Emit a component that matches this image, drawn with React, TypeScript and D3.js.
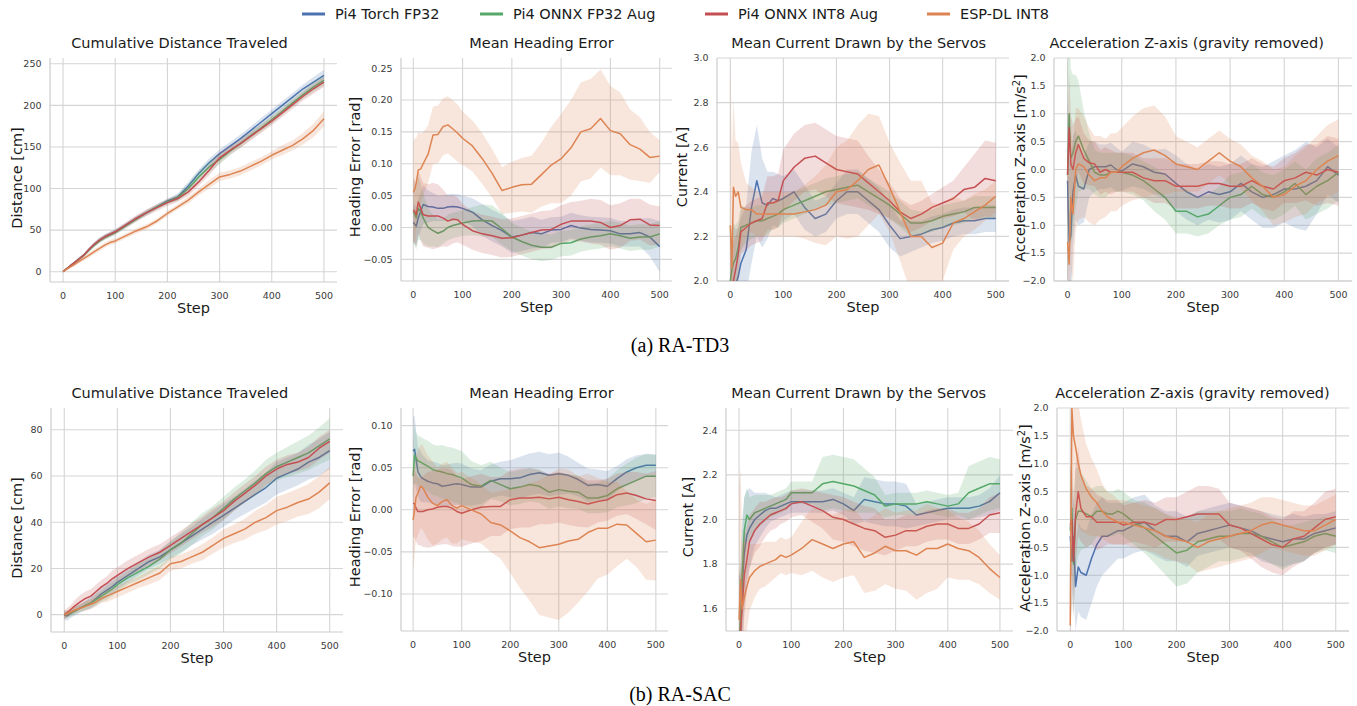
import React from 'react';
import * as d3 from 'd3';

// step grid shared by every series (denser at the start where the curves jump)
const STEPS = [0, 3, 6, 10, 15, 20, 30, 40, 50, 60, 70, 80, 90, 100, 120, 140, 160, 180, 200, 220, 240, 260, 280, 300, 320, 340, 360, 380, 400, 420, 440, 460, 480, 500];
const X_TICKS = [0, 100, 200, 300, 400, 500];
const SERIES = ['Pi4 Torch FP32', 'Pi4 ONNX FP32 Aug', 'Pi4 ONNX INT8 Aug', 'ESP-DL INT8'];
const COLORS = ['#4c72b0', '#55a868', '#c44e52', '#dd8452'];

// ---- (a) RA-TD3 ----
const distTd3Torch = [0, 1.5, 3, 5, 7.5, 10, 15, 20, 27, 33, 38, 42, 45, 48, 56, 64, 71, 78, 85, 90, 103, 118, 131, 142, 151, 160, 170, 180, 190, 200, 210, 220, 228, 236];
const distTd3TorchSd = [0, 0.5, 1, 1, 1.5, 1.5, 2, 2, 2.5, 2.5, 3, 3, 3, 3, 3, 3, 3, 3, 3, 4, 5, 5, 5, 5, 5, 5, 5, 5, 5, 5, 5, 5, 6, 7];
const distTd3Fp32 = [0, 1.5, 3, 5, 7.5, 10, 15, 20, 26, 32, 37, 41, 44, 47, 55, 63, 71, 78, 84, 89, 100, 114, 126, 135, 145, 154, 164, 173, 183, 193, 203, 213, 222, 230];
const distTd3Fp32Sd = [0, 0.5, 1, 1, 1.5, 1.5, 2, 2, 2.5, 2.5, 3, 3, 3, 3, 3, 3, 3, 3, 3, 4, 6, 7, 7, 6, 5, 5, 5, 5, 5, 5, 5, 5, 6, 6];
const distTd3Int8 = [0, 1.5, 3, 5, 7.5, 10, 15, 20, 27, 33, 38, 42, 45, 48, 56, 64, 71, 77, 83, 88, 96, 108, 122, 137, 146, 154, 163, 172, 181, 191, 201, 211, 220, 228];
const distTd3Int8Sd = [0, 0.5, 1, 1, 1.5, 1.5, 2, 2, 2.5, 3, 3, 3, 3, 3, 3.5, 4, 4, 4, 4, 4, 5, 5, 6, 6, 5, 5, 5, 5, 5, 5, 5, 5, 6, 6];
const distTd3Esp = [0, 1.2, 2.5, 4, 6, 8, 12, 16, 20, 24, 28, 32, 35, 37, 43, 49, 54, 61, 70, 78, 86, 96, 105, 114, 117, 121, 127, 133, 140, 146, 152, 160, 170, 184];
const distTd3EspSd = [0, 0.5, 1, 1, 1.5, 2, 2, 2.5, 3, 3, 3, 3, 3, 3, 3, 3, 3, 3, 3, 3, 4, 4, 5, 5, 5, 5, 5, 5, 5, 6, 6, 7, 8, 9];

const headTd3Torch = [0.008, 0.005, 0.002, 0.015, 0.025, 0.036, 0.033, 0.032, 0.03, 0.03, 0.032, 0.033, 0.032, 0.03, 0.024, 0.012, 0.003, -0.005, -0.015, -0.012, -0.008, -0.01, -0.004, -0.003, 0.003, -0.001, -0.003, -0.004, -0.005, -0.01, -0.01, -0.008, -0.015, -0.03];
const headTd3TorchSd = [0.03, 0.03, 0.03, 0.03, 0.03, 0.03, 0.025, 0.022, 0.02, 0.02, 0.02, 0.02, 0.02, 0.02, 0.022, 0.025, 0.025, 0.025, 0.025, 0.025, 0.025, 0.022, 0.02, 0.02, 0.02, 0.02, 0.02, 0.02, 0.02, 0.02, 0.02, 0.022, 0.03, 0.04];
const headTd3Fp32 = [0.025, 0.02, 0.015, 0.03, 0.025, 0.015, 0, -0.005, -0.009, -0.006, 0, 0.003, 0.005, 0.007, 0.01, 0.011, 0.01, -0.002, -0.015, -0.022, -0.028, -0.031, -0.031, -0.025, -0.024, -0.018, -0.015, -0.013, -0.01, -0.013, -0.017, -0.015, -0.015, -0.01];
const headTd3Fp32Sd = [0.05, 0.05, 0.05, 0.05, 0.045, 0.04, 0.03, 0.025, 0.022, 0.02, 0.02, 0.02, 0.02, 0.02, 0.022, 0.025, 0.025, 0.025, 0.022, 0.022, 0.022, 0.022, 0.02, 0.02, 0.02, 0.02, 0.02, 0.02, 0.02, 0.02, 0.02, 0.02, 0.02, 0.02];
const headTd3Int8 = [0.028, 0.025, 0.02, 0.04, 0.03, 0.02, 0.018, 0.018, 0.018, 0.015, 0.01, 0.013, 0.012, 0.005, -0.005, -0.01, -0.013, -0.017, -0.016, -0.012, -0.008, -0.004, -0.003, 0.005, 0.01, 0.01, 0.01, 0.008, 0, 0.003, 0.012, 0.013, 0.004, 0.003];
const headTd3Int8Sd = [0.05, 0.05, 0.05, 0.05, 0.05, 0.05, 0.05, 0.052, 0.05, 0.045, 0.04, 0.038, 0.035, 0.032, 0.03, 0.03, 0.03, 0.03, 0.03, 0.03, 0.03, 0.03, 0.03, 0.03, 0.03, 0.032, 0.035, 0.035, 0.035, 0.035, 0.033, 0.032, 0.032, 0.03];
const headTd3Esp = [0.055, 0.06, 0.07, 0.09, 0.092, 0.1, 0.115, 0.145, 0.146, 0.158, 0.161, 0.155, 0.148, 0.14, 0.128, 0.108, 0.085, 0.058, 0.063, 0.067, 0.068, 0.083, 0.098, 0.108, 0.125, 0.15, 0.155, 0.171, 0.152, 0.147, 0.13, 0.123, 0.11, 0.112];
const headTd3EspSd = [0.08, 0.08, 0.07, 0.06, 0.055, 0.05, 0.045, 0.045, 0.045, 0.045, 0.045, 0.045, 0.045, 0.042, 0.04, 0.04, 0.038, 0.037, 0.04, 0.042, 0.045, 0.05, 0.06, 0.07, 0.075, 0.078, 0.078, 0.077, 0.07, 0.065, 0.055, 0.05, 0.04, 0.025];

const currTd3Torch = [1.9, 1.9, 1.95, 1.98, 2.02, 2.08, 2.14, 2.33, 2.45, 2.35, 2.34, 2.37, 2.36, 2.37, 2.4, 2.33, 2.28, 2.3, 2.36, 2.4, 2.4, 2.36, 2.32, 2.25, 2.19, 2.2, 2.21, 2.23, 2.24, 2.26, 2.27, 2.27, 2.28, 2.28];
const currTd3TorchSd = [0.3, 0.3, 0.3, 0.25, 0.22, 0.2, 0.2, 0.25, 0.25, 0.2, 0.15, 0.12, 0.12, 0.1, 0.1, 0.1, 0.08, 0.08, 0.08, 0.1, 0.1, 0.1, 0.1, 0.1, 0.08, 0.07, 0.06, 0.06, 0.06, 0.06, 0.06, 0.06, 0.06, 0.06];
const currTd3Fp32 = [2.0, 2.05, 2.08, 2.1, 2.15, 2.24, 2.25, 2.26, 2.27, 2.27, 2.28, 2.29, 2.3, 2.32, 2.34, 2.36, 2.38, 2.4, 2.41, 2.42, 2.43, 2.4, 2.37, 2.34, 2.3, 2.26, 2.26, 2.27, 2.29, 2.3, 2.31, 2.33, 2.33, 2.33];
const currTd3Fp32Sd = [0.2, 0.2, 0.18, 0.15, 0.12, 0.1, 0.08, 0.07, 0.07, 0.07, 0.07, 0.06, 0.06, 0.06, 0.06, 0.06, 0.06, 0.06, 0.06, 0.06, 0.06, 0.06, 0.06, 0.06, 0.06, 0.06, 0.05, 0.05, 0.05, 0.05, 0.05, 0.05, 0.05, 0.05];
const currTd3Int8 = [1.9, 1.95, 2.0, 2.05, 2.12, 2.22, 2.24, 2.26, 2.27, 2.28, 2.35, 2.35, 2.36, 2.45, 2.51, 2.55, 2.56, 2.53, 2.5, 2.49, 2.48, 2.44, 2.4, 2.36, 2.31, 2.28, 2.3, 2.33, 2.35, 2.37, 2.41, 2.42, 2.46, 2.45];
const currTd3Int8Sd = [0.2, 0.2, 0.18, 0.15, 0.12, 0.1, 0.1, 0.1, 0.1, 0.1, 0.12, 0.12, 0.12, 0.14, 0.15, 0.15, 0.15, 0.15, 0.15, 0.15, 0.15, 0.12, 0.1, 0.08, 0.06, 0.06, 0.06, 0.06, 0.07, 0.08, 0.1, 0.15, 0.17, 0.17];
const currTd3Esp = [2.25, 2.06, 2.42, 2.38, 2.4, 2.33, 2.32, 2.32, 2.3, 2.3, 2.3, 2.3, 2.3, 2.3, 2.3, 2.31, 2.32, 2.34, 2.4, 2.41, 2.45, 2.5, 2.52, 2.42, 2.31, 2.2, 2.2, 2.15, 2.17, 2.26, 2.28, 2.31, 2.34, 2.38];
const currTd3EspSd = [0.8, 0.5, 0.4, 0.25, 0.22, 0.2, 0.12, 0.1, 0.1, 0.1, 0.1, 0.1, 0.1, 0.1, 0.1, 0.12, 0.15, 0.18, 0.2, 0.22, 0.25, 0.25, 0.22, 0.2, 0.22, 0.25, 0.25, 0.2, 0.17, 0.12, 0.08, 0.08, 0.07, 0.07];

const accTd3Torch = [-0.2, -1.3, -1.2, -0.4, -0.1, -0.3, -0.35, 0, 0.05, 0.05, 0.05, 0.08, 0, -0.03, 0.1, 0.05, -0.05, -0.08, -0.25, -0.4, -0.5, -0.4, -0.45, -0.4, -0.25, -0.4, -0.5, -0.45, -0.35, -0.35, -0.3, -0.2, 0.05, -0.1];
const accTd3TorchSd = [1.5, 1.5, 1.3, 1.0, 0.8, 0.7, 0.6, 0.5, 0.45, 0.4, 0.4, 0.4, 0.4, 0.35, 0.4, 0.4, 0.4, 0.45, 0.5, 0.5, 0.5, 0.5, 0.5, 0.5, 0.5, 0.5, 0.55, 0.6, 0.6, 0.7, 0.8, 0.6, 0.5, 0.5];
const accTd3Fp32 = [-0.1, 1.0, 0.2, 0.3, 0.5, 0.6, 0.35, 0.15, -0.05, -0.1, -0.1, -0.05, -0.05, -0.05, -0.1, -0.2, -0.35, -0.5, -0.75, -0.75, -0.85, -0.8, -0.65, -0.5, -0.45, -0.3, -0.45, -0.5, -0.4, -0.25, -0.45, -0.3, -0.2, -0.05];
const accTd3Fp32Sd = [1.8, 1.8, 1.6, 1.4, 1.2, 1.0, 0.7, 0.5, 0.4, 0.4, 0.4, 0.35, 0.35, 0.35, 0.35, 0.35, 0.4, 0.4, 0.4, 0.4, 0.35, 0.35, 0.35, 0.4, 0.4, 0.4, 0.4, 0.4, 0.4, 0.4, 0.45, 0.5, 0.5, 0.5];
const accTd3Int8 = [-0.1, 0.75, 0.1, 0, 0.3, 0.45, 0.2, 0.12, 0.1, -0.05, 0, -0.05, -0.05, -0.05, -0.05, -0.15, -0.2, -0.2, -0.3, -0.3, -0.3, -0.25, -0.25, -0.3, -0.3, -0.2, -0.3, -0.35, -0.2, -0.15, -0.05, -0.1, 0, -0.05];
const accTd3Int8Sd = [1.0, 1.0, 0.9, 0.8, 0.6, 0.5, 0.45, 0.4, 0.4, 0.4, 0.4, 0.4, 0.35, 0.35, 0.35, 0.35, 0.4, 0.4, 0.4, 0.4, 0.4, 0.4, 0.4, 0.4, 0.4, 0.4, 0.4, 0.4, 0.4, 0.45, 0.5, 0.55, 0.6, 0.6];
const accTd3Esp = [-1.3, -1.7, -0.5, -0.8, 0, 0.1, 0.05, -0.1, -0.2, -0.15, -0.15, -0.05, -0.05, 0.05, 0.2, 0.3, 0.35, 0.25, 0.1, 0.05, 0, 0.15, 0.3, 0.15, 0.05, -0.15, -0.3, -0.5, -0.45, -0.3, -0.2, 0, 0.15, 0.25];
const accTd3EspSd = [1.5, 1.5, 1.3, 1.2, 1.1, 1.0, 0.9, 0.85, 0.8, 0.75, 0.7, 0.7, 0.7, 0.7, 0.75, 0.8, 0.8, 0.7, 0.5, 0.45, 0.4, 0.4, 0.4, 0.4, 0.4, 0.4, 0.45, 0.5, 0.5, 0.55, 0.6, 0.6, 0.65, 0.65];

// ---- (b) RA-SAC ----
const distSacTorch = [0, -0.5, -0.5, 0.2, 1, 1.6, 2.8, 4, 5, 7, 9, 10.5, 12, 14, 17, 20, 23, 25, 28, 31, 34, 37, 40, 43, 46, 49, 52, 55, 59, 61, 63, 66, 68, 71];
const distSacTorchSd = [2, 2, 2, 2, 2, 2, 2, 2, 2.5, 2.5, 3, 3, 3, 3, 3, 3, 3, 3, 3.5, 4, 4, 4.5, 5, 5, 5, 5.5, 6, 6.5, 7, 7, 7, 7.5, 8, 8];
const distSacFp32 = [0, 0, 0.2, 0.5, 1, 1.6, 2.8, 4, 5, 6.5, 8, 9.5, 11, 13, 16, 18.5, 21, 24, 28, 31, 35, 39, 42, 46, 50, 53.5, 57, 61, 64, 66, 68, 70, 73, 76];
const distSacFp32Sd = [1.5, 1.5, 1.5, 1.5, 1.5, 1.5, 1.5, 2, 2, 2.5, 2.5, 3, 3, 3, 3, 3.5, 3.5, 4, 4, 4.5, 5, 5, 5, 5, 5, 5, 5.5, 6, 6, 6.5, 7, 7.5, 8, 9];
const distSacInt8 = [0, 0.5, 1, 1.8, 2.8, 3.8, 5.5, 7, 8, 10, 12, 13.5, 15.5, 17, 20, 22.5, 25, 27, 30, 33, 36, 39, 42, 45, 49, 52.5, 56, 60, 63, 65, 66, 68, 72, 75];
const distSacInt8Sd = [2, 2, 2, 2, 2, 2.5, 3, 3, 3, 3, 3, 3, 3.5, 3.5, 3.5, 3.5, 3.5, 3.5, 3.5, 3.5, 3.5, 3.5, 4, 4, 4, 4, 4, 4, 4, 4, 4, 4.5, 5, 5];
const distSacEsp = [0, 0.2, 0.5, 1, 1.5, 2, 2.8, 3.6, 4.5, 5.5, 7, 8, 9, 10, 12, 14, 16, 18, 22, 23, 25, 27, 30, 33, 35, 37, 40, 42, 45, 46.5, 48.5, 50, 53, 57];
const distSacEspSd = [1.5, 1.5, 1.5, 1.5, 1.5, 1.5, 1.5, 2, 2, 2, 2, 2.5, 2.5, 2.5, 2.5, 2.5, 3, 3, 3, 3, 3, 3.5, 3.5, 4, 4, 4.5, 5, 5.5, 6, 6, 6, 6.5, 7, 7];

const headSacTorch = [0.07, 0.072, 0.06, 0.045, 0.04, 0.037, 0.034, 0.032, 0.031, 0.028, 0.029, 0.03, 0.031, 0.03, 0.027, 0.027, 0.034, 0.037, 0.037, 0.038, 0.042, 0.044, 0.041, 0.043, 0.041, 0.036, 0.029, 0.03, 0.028, 0.037, 0.045, 0.05, 0.053, 0.053];
const headSacTorchSd = [0.04, 0.04, 0.035, 0.03, 0.03, 0.028, 0.025, 0.025, 0.025, 0.025, 0.025, 0.025, 0.025, 0.025, 0.022, 0.02, 0.02, 0.02, 0.022, 0.025, 0.025, 0.025, 0.025, 0.025, 0.022, 0.02, 0.02, 0.018, 0.018, 0.015, 0.015, 0.015, 0.013, 0.013];
const headSacFp32 = [0.04, 0.065, 0.062, 0.058, 0.057, 0.055, 0.052, 0.048, 0.046, 0.045, 0.043, 0.042, 0.04, 0.038, 0.03, 0.028, 0.035, 0.03, 0.025, 0.027, 0.03, 0.028, 0.021, 0.024, 0.022, 0.021, 0.014, 0.014, 0.017, 0.025, 0.03, 0.035, 0.04, 0.04];
const headSacFp32Sd = [0.035, 0.035, 0.03, 0.03, 0.03, 0.03, 0.03, 0.03, 0.03, 0.032, 0.032, 0.032, 0.032, 0.032, 0.028, 0.025, 0.022, 0.02, 0.02, 0.02, 0.02, 0.02, 0.02, 0.02, 0.02, 0.02, 0.018, 0.018, 0.02, 0.022, 0.025, 0.027, 0.027, 0.025];
const headSacInt8 = [0.008, 0.007, 0.002, -0.002, -0.002, -0.002, 0, 0.001, 0.003, 0.004, 0.004, 0.002, -0.002, -0.004, 0, 0.003, 0.004, 0.004, 0.012, 0.014, 0.014, 0.015, 0.013, 0.015, 0.012, 0.01, 0.007, 0.01, 0.012, 0.018, 0.02, 0.017, 0.013, 0.011];
const headSacInt8Sd = [0.04, 0.04, 0.04, 0.04, 0.04, 0.042, 0.045, 0.045, 0.045, 0.045, 0.045, 0.045, 0.042, 0.04, 0.04, 0.04, 0.035, 0.035, 0.035, 0.035, 0.035, 0.032, 0.03, 0.03, 0.03, 0.03, 0.028, 0.025, 0.025, 0.025, 0.025, 0.028, 0.03, 0.035];
const headSacEsp = [-0.012, 0, 0.015, 0.02, 0.028, 0.026, 0.015, 0.008, 0.005, 0.01, 0.012, 0.005, 0.002, 0.005, 0, -0.005, -0.015, -0.018, -0.025, -0.033, -0.038, -0.045, -0.043, -0.041, -0.037, -0.035, -0.027, -0.022, -0.022, -0.017, -0.018, -0.028, -0.038, -0.036];
const headSacEspSd = [0.06, 0.055, 0.05, 0.05, 0.05, 0.05, 0.05, 0.05, 0.045, 0.045, 0.045, 0.045, 0.042, 0.04, 0.038, 0.035, 0.035, 0.04, 0.05, 0.06, 0.07, 0.08, 0.085, 0.09, 0.085, 0.075, 0.07, 0.06, 0.055, 0.05, 0.04, 0.04, 0.045, 0.048];

const currSacTorch = [1.45, 1.5, 1.7, 1.85, 1.93, 1.96, 2.0, 2.02, 2.04, 2.05, 2.05, 2.06, 2.07, 2.08, 2.08, 2.08, 2.08, 2.09, 2.07, 2.04, 2.09, 2.08, 2.07, 2.07, 2.06, 2.02, 2.03, 2.04, 2.05, 2.05, 2.05, 2.06, 2.08, 2.12];
const currSacTorchSd = [0.3, 0.3, 0.3, 0.25, 0.2, 0.18, 0.12, 0.1, 0.08, 0.06, 0.05, 0.05, 0.05, 0.05, 0.05, 0.05, 0.05, 0.05, 0.05, 0.06, 0.1, 0.1, 0.1, 0.1, 0.1, 0.05, 0.05, 0.05, 0.05, 0.05, 0.05, 0.05, 0.06, 0.08];
const currSacFp32 = [1.45, 1.55, 1.75, 1.95, 2.02, 2.0, 2.03, 2.04, 2.05, 2.06, 2.07, 2.08, 2.09, 2.12, 2.12, 2.12, 2.16, 2.17, 2.16, 2.15, 2.13, 2.11, 2.06, 2.07, 2.07, 2.07, 2.08, 2.07, 2.06, 2.07, 2.12, 2.14, 2.16, 2.16];
const currSacFp32Sd = [0.3, 0.25, 0.2, 0.15, 0.12, 0.1, 0.08, 0.07, 0.06, 0.05, 0.05, 0.05, 0.05, 0.05, 0.05, 0.05, 0.12, 0.12, 0.12, 0.12, 0.1, 0.08, 0.05, 0.05, 0.05, 0.05, 0.05, 0.05, 0.05, 0.05, 0.12, 0.12, 0.12, 0.11];
const currSacInt8 = [1.45, 1.5, 1.6, 1.75, 1.82, 1.9, 1.95, 1.98, 2.0, 2.02, 2.03, 2.04, 2.05, 2.07, 2.08, 2.06, 2.04, 2.01, 2.0, 1.98, 1.96, 1.95, 1.92, 1.93, 1.95, 1.95, 1.97, 1.98, 1.98, 1.96, 1.96, 1.98, 2.02, 2.03];
const currSacInt8Sd = [0.3, 0.25, 0.2, 0.18, 0.15, 0.12, 0.1, 0.1, 0.08, 0.07, 0.07, 0.06, 0.06, 0.06, 0.06, 0.07, 0.08, 0.1, 0.1, 0.1, 0.1, 0.1, 0.08, 0.07, 0.07, 0.07, 0.07, 0.07, 0.07, 0.07, 0.07, 0.07, 0.08, 0.09];
const currSacEsp = [1.55, 1.73, 1.6, 1.65, 1.7, 1.74, 1.77, 1.79, 1.8, 1.81, 1.82, 1.84, 1.83, 1.84, 1.87, 1.91, 1.89, 1.87, 1.89, 1.9, 1.83, 1.85, 1.88, 1.86, 1.86, 1.84, 1.87, 1.87, 1.89, 1.87, 1.86, 1.83, 1.78, 1.74];
const currSacEspSd = [0.6, 0.5, 0.3, 0.25, 0.2, 0.15, 0.12, 0.1, 0.1, 0.09, 0.08, 0.08, 0.08, 0.08, 0.12, 0.14, 0.15, 0.15, 0.15, 0.15, 0.16, 0.17, 0.17, 0.17, 0.18, 0.2, 0.2, 0.18, 0.15, 0.14, 0.13, 0.12, 0.11, 0.1];

const accSacTorch = [-0.3, -0.75, -0.3, -1.2, -0.85, -0.95, -1.0, -0.7, -0.45, -0.3, -0.3, -0.25, -0.2, -0.2, -0.1, -0.05, -0.2, -0.3, -0.3, -0.4, -0.25, -0.2, -0.15, -0.1, -0.15, -0.2, -0.3, -0.35, -0.4, -0.35, -0.35, -0.25, -0.2, -0.15];
const accSacTorchSd = [1.0, 1.0, 0.9, 0.8, 0.8, 0.8, 0.8, 0.8, 0.75, 0.7, 0.6, 0.55, 0.5, 0.5, 0.5, 0.5, 0.45, 0.45, 0.45, 0.45, 0.4, 0.4, 0.4, 0.4, 0.4, 0.4, 0.45, 0.45, 0.45, 0.45, 0.4, 0.35, 0.3, 0.3];
const accSacFp32 = [-0.2, 0.2, -0.8, 0, 0.15, 0.15, 0.1, 0.05, 0.15, 0.15, 0.1, 0.1, 0.15, 0.1, -0.05, -0.15, -0.3, -0.45, -0.6, -0.55, -0.4, -0.35, -0.3, -0.3, -0.25, -0.25, -0.3, -0.4, -0.5, -0.45, -0.4, -0.3, -0.25, -0.3];
const accSacFp32Sd = [1.0, 1.0, 1.0, 0.9, 0.8, 0.7, 0.6, 0.5, 0.45, 0.45, 0.4, 0.4, 0.4, 0.4, 0.4, 0.45, 0.5, 0.55, 0.6, 0.6, 0.55, 0.5, 0.45, 0.45, 0.45, 0.4, 0.4, 0.4, 0.4, 0.35, 0.35, 0.3, 0.3, 0.3];
const accSacInt8 = [-0.1, 0, -0.75, 0.1, 0.5, 0.2, 0.05, 0.05, -0.05, -0.05, -0.05, -0.05, -0.05, -0.1, -0.05, -0.05, -0.1, 0, 0, 0.05, 0.1, 0.1, 0.1, -0.1, -0.15, -0.25, -0.35, -0.45, -0.5, -0.35, -0.3, -0.15, 0, 0.05];
const accSacInt8Sd = [1.0, 1.0, 1.0, 0.9, 0.8, 0.6, 0.55, 0.5, 0.5, 0.45, 0.4, 0.4, 0.4, 0.35, 0.35, 0.4, 0.4, 0.4, 0.4, 0.45, 0.5, 0.5, 0.45, 0.4, 0.4, 0.45, 0.5, 0.5, 0.5, 0.5, 0.45, 0.45, 0.5, 0.5];
const accSacEsp = [-1.9, 2.0, 1.5, 1.3, 1.0, 0.8, 0.55, 0.4, 0.3, 0.15, 0.05, 0, -0.05, -0.05, -0.1, -0.15, -0.2, -0.3, -0.35, -0.4, -0.5, -0.4, -0.35, -0.3, -0.25, -0.2, -0.1, -0.05, -0.1, -0.15, -0.2, -0.2, -0.1, 0];
const accSacEspSd = [1.5, 1.5, 1.3, 1.2, 1.1, 1.0, 0.8, 0.7, 0.6, 0.5, 0.45, 0.45, 0.4, 0.4, 0.4, 0.4, 0.4, 0.4, 0.4, 0.4, 0.45, 0.5, 0.5, 0.5, 0.5, 0.5, 0.5, 0.45, 0.45, 0.45, 0.45, 0.45, 0.45, 0.45];

const DIST_TD3_TICKS = [0, 50, 100, 150, 200, 250];
const HEAD_TD3_TICKS = [-0.05, 0, 0.05, 0.1, 0.15, 0.2, 0.25];
const CURR_TD3_TICKS = [2.0, 2.2, 2.4, 2.6, 2.8, 3.0];
const ACC_TICKS = [-2, -1.5, -1, -0.5, 0, 0.5, 1, 1.5, 2];
const DIST_SAC_TICKS = [0, 20, 40, 60, 80];
const HEAD_SAC_TICKS = [-0.1, -0.05, 0, 0.05, 0.1];
const CURR_SAC_TICKS = [1.6, 1.8, 2.0, 2.2, 2.4];

const FONT = 'DejaVu Sans, Verdana, sans-serif';
const GRID = '#d5d5d5';

// layout of each subplot in the page
const PANELS = [
  { title: 'Cumulative Distance Traveled', ylabel: 'Distance [cm]', means: [distTd3Torch, distTd3Fp32, distTd3Int8, distTd3Esp], sds: [distTd3TorchSd, distTd3Fp32Sd, distTd3Int8Sd, distTd3EspSd], yDomain: [-12.4, 257], yTicks: DIST_TD3_TICKS, fmt: 'd', l: 50, r: 337, t: 58, b: 282, tx: 179.5, ty: 43, lx: 17, ly: 178 },
  { title: 'Mean Heading Error', ylabel: 'Heading Error [rad]', means: [headTd3Torch, headTd3Fp32, headTd3Int8, headTd3Esp], sds: [headTd3TorchSd, headTd3Fp32Sd, headTd3Int8Sd, headTd3EspSd], yDomain: [-0.084, 0.266], yTicks: HEAD_TD3_TICKS, fmt: '.2f', l: 401, r: 672, t: 58, b: 281, tx: 541.5, ty: 43, lx: 355, ly: 167 },
  { title: 'Mean Current Drawn by the Servos', ylabel: 'Current [A]', means: [currTd3Torch, currTd3Fp32, currTd3Int8, currTd3Esp], sds: [currTd3TorchSd, currTd3Fp32Sd, currTd3Int8Sd, currTd3EspSd], yDomain: [2, 3], yTicks: CURR_TD3_TICKS, fmt: '.1f', l: 717, r: 1009, t: 58, b: 281, tx: 858.7, ty: 43, lx: 682, ly: 167 },
  { title: 'Acceleration Z-axis (gravity removed)', ylabel: 'acc', means: [accTd3Torch, accTd3Fp32, accTd3Int8, accTd3Esp], sds: [accTd3TorchSd, accTd3Fp32Sd, accTd3Int8Sd, accTd3EspSd], yDomain: [-2, 2], yTicks: ACC_TICKS, fmt: '.1f', l: 1054, r: 1352, t: 58, b: 281, tx: 1186.7, ty: 43, lx: 1020, ly: 168 },
  { title: 'Cumulative Distance Traveled', ylabel: 'Distance [cm]', means: [distSacTorch, distSacFp32, distSacInt8, distSacEsp], sds: [distSacTorchSd, distSacFp32Sd, distSacInt8Sd, distSacEspSd], yDomain: [-7.5, 89.4], yTicks: DIST_SAC_TICKS, fmt: 'd', l: 51, r: 343, t: 408, b: 632, tx: 179.8, ty: 393, lx: 17, ly: 528 },
  { title: 'Mean Heading Error', ylabel: 'Heading Error [rad]', means: [headSacTorch, headSacFp32, headSacInt8, headSacEsp], sds: [headSacTorchSd, headSacFp32Sd, headSacInt8Sd, headSacEspSd], yDomain: [-0.144, 0.121], yTicks: HEAD_SAC_TICKS, fmt: '.2f', l: 401, r: 668, t: 408, b: 631, tx: 541.5, ty: 393, lx: 355, ly: 517 },
  { title: 'Mean Current Drawn by the Servos', ylabel: 'Current [A]', means: [currSacTorch, currSacFp32, currSacInt8, currSacEsp], sds: [currSacTorchSd, currSacFp32Sd, currSacInt8Sd, currSacEspSd], yDomain: [1.5, 2.5], yTicks: CURR_SAC_TICKS, fmt: '.1f', l: 726, r: 1013, t: 408, b: 631, tx: 858.7, ty: 393, lx: 688, ly: 517 },
  { title: 'Acceleration Z-axis (gravity removed)', ylabel: 'acc', means: [accSacTorch, accSacFp32, accSacInt8, accSacEsp], sds: [accSacTorchSd, accSacFp32Sd, accSacInt8Sd, accSacEspSd], yDomain: [-2, 2], yTicks: ACC_TICKS, fmt: '.1f', l: 1057, r: 1349, t: 408, b: 631, tx: 1192.5, ty: 393, lx: 1025, ly: 518 },
];

const LEGEND_X = [302, 480, 705, 927];
const CAPTIONS = [{ text: '(a) RA-TD3', y: 352 }, { text: '(b) RA-SAC', y: 701 }];

function Panel({ p, idx }: { p: any; idx: number }) {
  const x = d3.scaleLinear().domain([-25, 525]).range([p.l, p.r]);
  const y = d3.scaleLinear().domain(p.yDomain).range([p.b, p.t]);
  const fmt = d3.format(p.fmt);
  const clipId = `clip-${idx}`;
  const line = d3.line<number>().x((_, i) => x(STEPS[i])).y((d) => y(d));

  return (
    <g>
      <defs>
        <clipPath id={clipId}>
          <rect x={p.l} y={p.t} width={p.r - p.l} height={p.b - p.t} />
        </clipPath>
      </defs>
      {/* grid */}
      {X_TICKS.map((v) => (
        <line key={'gx' + v} x1={x(v)} x2={x(v)} y1={p.t} y2={p.b} stroke={GRID} strokeWidth={1.1} />
      ))}
      {p.yTicks.map((v: number) => (
        <line key={'gy' + v} x1={p.l} x2={p.r} y1={y(v)} y2={y(v)} stroke={GRID} strokeWidth={1.1} />
      ))}
      {/* spines */}
      <line x1={p.l} x2={p.l} y1={p.t} y2={p.b} stroke="#cccccc" strokeWidth={1.2} />
      <line x1={p.l} x2={p.r} y1={p.b} y2={p.b} stroke="#cccccc" strokeWidth={1.2} />

      <g clipPath={`url(#${clipId})`}>
        {p.means.map((m: number[], s: number) => {
          const sd = p.sds[s];
          const area = d3.area<number>()
            .x((_, i) => x(STEPS[i]))
            .y0((d, i) => y(d - sd[i]))
            .y1((d, i) => y(d + sd[i]));
          return (
            <g key={s}>
              <path d={area(m) || ''} fill={COLORS[s]} fillOpacity={0.2} stroke="none" />
              <path d={line(m) || ''} fill="none" stroke={COLORS[s]} strokeWidth={1.5} strokeLinejoin="round" />
            </g>
          );
        })}
      </g>

      {/* tick labels */}
      {X_TICKS.map((v) => (
        <text key={'tx' + v} x={x(v)} y={p.b + 17} textAnchor="middle" fontSize={9.5} fill="#3a3a3a" fontFamily={FONT}>{v}</text>
      ))}
      {p.yTicks.map((v: number) => (
        <text key={'ty' + v} x={p.l - 8.5} y={y(v)} dy="0.35em" textAnchor="end" fontSize={9.5} fill="#3a3a3a" fontFamily={FONT}>{fmt(v)}</text>
      ))}

      <text x={p.tx} y={p.ty} dy="0.35em" textAnchor="middle" fontSize={14.5} fill="#1a1a1a" fontFamily={FONT}>{p.title}</text>
      <text x={(p.l + p.r) / 2} y={p.b + 26} dy="0.35em" textAnchor="middle" fontSize={14.5} fill="#1a1a1a" fontFamily={FONT}>Step</text>
      <text transform={`translate(${p.lx},${p.ly}) rotate(-90)`} dy="0.35em" textAnchor="middle" fontSize={14.5} fill="#1a1a1a" fontFamily={FONT}>
        {p.ylabel === 'acc' ? (
          <>
            Acceleration Z-axis [m/s<tspan fontSize={10} dy="-0.5em">2</tspan><tspan dy="0.35em">]</tspan>
          </>
        ) : p.ylabel}
      </text>
    </g>
  );
}

export default function App() {
  return (
    <svg width={1357} height={706} style={{ position: 'absolute', left: 0, top: 0, background: '#fff' }}>
      <rect width={1357} height={706} fill="#fff" />
      {SERIES.map((name, i) => (
        <g key={name}>
          <line x1={LEGEND_X[i]} x2={LEGEND_X[i] + 23} y1={14} y2={14} stroke={COLORS[i]} strokeWidth={3} />
          <text x={LEGEND_X[i] + 33} y={14} dy="0.35em" fontSize={14.5} fill="#1a1a1a" fontFamily={FONT}>{name}</text>
        </g>
      ))}
      {PANELS.map((p, i) => <Panel key={i} p={p} idx={i} />)}
      {CAPTIONS.map((c) => (
        <text key={c.text} x={680} y={c.y} textAnchor="middle" fontSize={20} fill="#000" fontFamily="Liberation Serif, Times New Roman, serif">{c.text}</text>
      ))}
    </svg>
  );
}
